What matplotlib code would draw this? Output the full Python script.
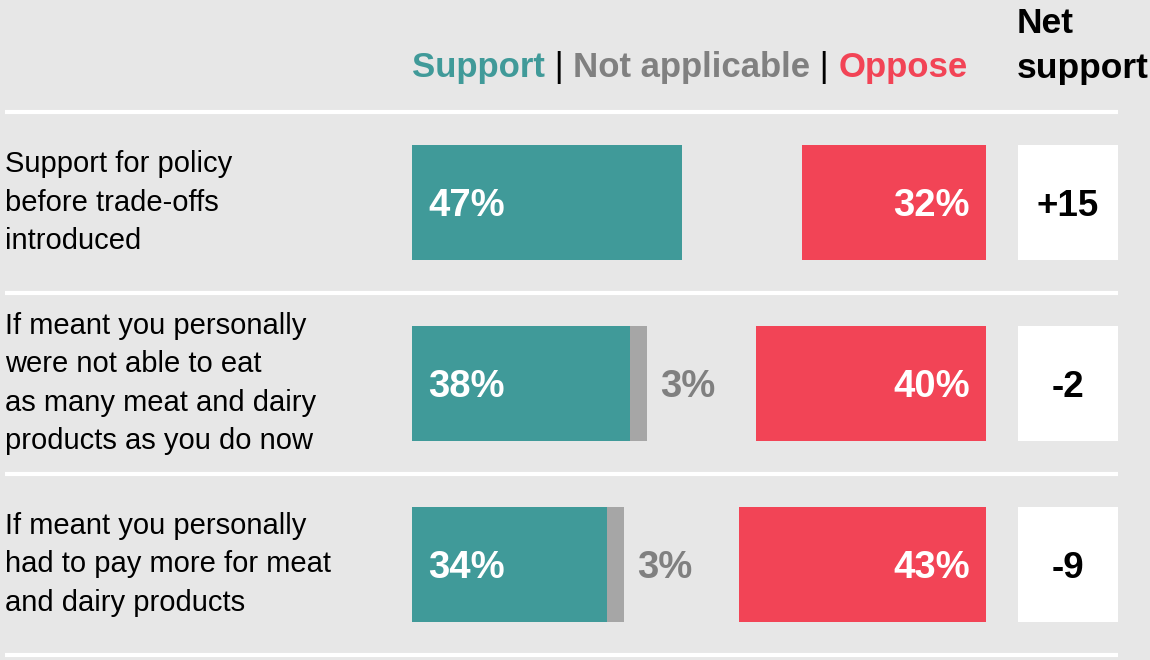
"""Diverging bar chart: support vs oppose for a meat and dairy policy."""

import matplotlib
matplotlib.use("Agg")
import matplotlib.pyplot as plt
from matplotlib.patches import Rectangle

plt.rcParams["font.family"] = ["Liberation Sans", "DejaVu Sans"]

questions = [
    "Support for policy\nbefore trade-offs\nintroduced",
    "If meant you personally\nwere not able to eat\nas many meat and dairy\nproducts as you do now",
    "If meant you personally\nhad to pay more for meat\nand dairy products",
]
support = [47, 38, 34]
not_applicable = [0, 3, 3]
oppose = [32, 40, 43]
net_support = ["+15", "-2", "-9"]

TEAL = "#409a99"
RED = "#f24456"
GREY_BAR = "#a6a6a6"
GREY_TEXT = "#808080"
BACKGROUND = "#e7e7e7"

fig = plt.figure(figsize=(11.5, 6.6), dpi=100, facecolor=BACKGROUND)
ax = fig.add_axes([0, 0, 1, 1])
ax.set_facecolor(BACKGROUND)
ax.set_xlim(-71.78, 128.57)
ax.set_ylim(2.528, -1.119)
ax.axis("off")

bar_height = 0.635
net_left, net_right = 105.6, 123.0
label_dy = 0.022  # nudge value labels down so the digits sit mid-bar

# white row separators
for sep in [-0.5, 0.5, 1.5, 2.5]:
    ax.plot([-70.9, net_right], [sep, sep], color="white", lw=3,
            solid_capstyle="butt")

for i, question in enumerate(questions):
    ax.text(-70.9, i, question, ha="left", va="center", fontsize=21,
            linespacing=1.48, color="black")

    ax.barh(i, support[i], height=bar_height, color=TEAL)
    if not_applicable[i]:
        ax.barh(i, not_applicable[i], left=support[i], height=bar_height,
                color=GREY_BAR)
        ax.text(support[i] + not_applicable[i] + 7.0, i + label_dy,
                f"{not_applicable[i]}%", ha="center", va="center",
                fontsize=27.5, fontweight="bold", color=GREY_TEXT)
    ax.barh(i, oppose[i], left=100 - oppose[i], height=bar_height, color=RED)

    ax.text(2.8, i + label_dy, f"{support[i]}%", ha="left", va="center",
            fontsize=27.5, fontweight="bold", color="white")
    ax.text(97.2, i + label_dy, f"{oppose[i]}%", ha="right", va="center",
            fontsize=27.5, fontweight="bold", color="white")

    ax.add_patch(Rectangle((net_left, i - bar_height / 2),
                           net_right - net_left, bar_height,
                           facecolor="white", edgecolor="none"))
    ax.text((net_left + net_right) / 2, i + label_dy, net_support[i],
            ha="center", va="center", fontsize=26.5, fontweight="bold",
            color="black")

# coloured header built from consecutive text pieces
header = [
    ("Support", TEAL, "bold"),
    (" | ", "black", "normal"),
    ("Not applicable", GREY_TEXT, "bold"),
    (" | ", "black", "normal"),
    ("Oppose", RED, "bold"),
]
prev = None
for word, colour, weight in header:
    if prev is None:
        prev = ax.text(0, -0.693, word, ha="left", va="baseline",
                       fontsize=25, fontweight=weight, color=colour)
    else:
        prev = ax.annotate(word, xy=(1, 0), xycoords=prev, ha="left",
                           va="bottom", fontsize=25, fontweight=weight,
                           color=colour)

ax.text(105.4, -1.08, "Net\nsupport", ha="left", va="top", fontsize=25.5,
        fontweight="bold", color="black", linespacing=1.45)

fig.savefig("out.png", dpi=100, facecolor=BACKGROUND)
